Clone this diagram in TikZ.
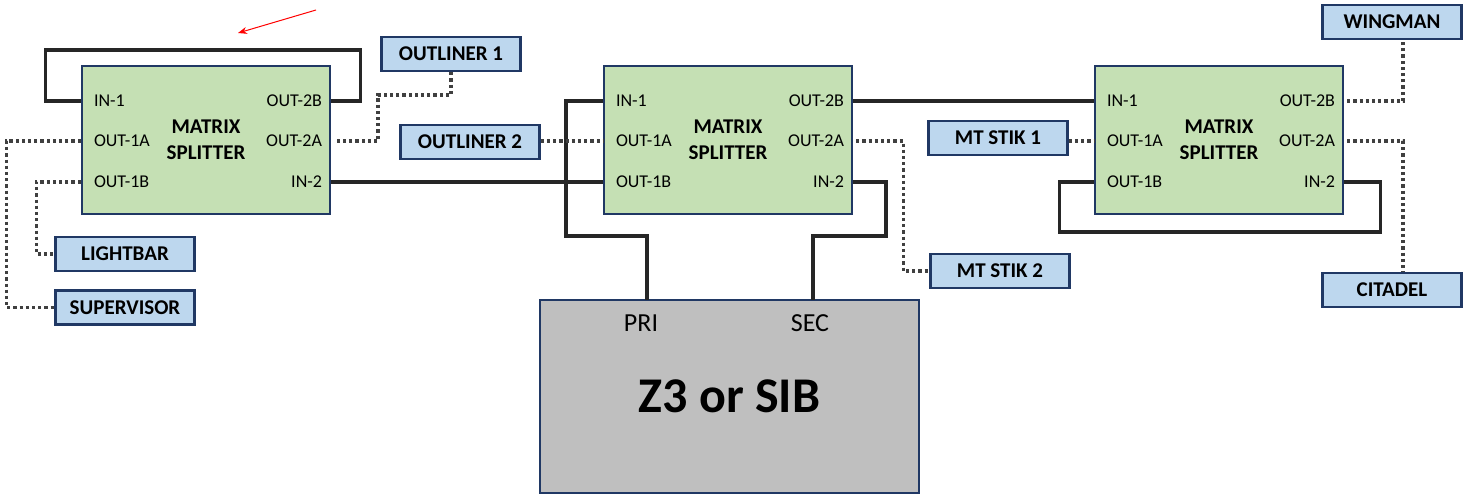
\documentclass[tikz,border=0pt]{standalone}
\usepackage{fontspec}
\setmainfont{Carlito}
\usetikzlibrary{arrows.meta, positioning, calc}

\definecolor{splitgreen}{HTML}{C5E0B4}
\definecolor{devblue}{HTML}{BDD7EE}
\definecolor{hostgrey}{HTML}{BFBFBF}
\definecolor{edgenavy}{HTML}{203864}

\begin{document}
\begin{tikzpicture}[
    x=1pt, y=-1pt,
    splitter/.style={
        rectangle,
        minimum width=248pt,
        minimum height=148pt,
        draw=edgenavy,
        line width=2.4pt,
        fill=splitgreen,
        align=center,
        font=\fontsize{21}{26}\selectfont\bfseries
    },
    device/.style={
        rectangle,
        minimum width=139pt,
        minimum height=34pt,
        inner sep=0pt,
        draw=edgenavy,
        line width=2.4pt,
        fill=devblue,
        font=\fontsize{21}{24}\selectfont\bfseries
    },
    host/.style={
        rectangle,
        minimum width=379pt,
        minimum height=193pt,
        draw=edgenavy,
        line width=2.4pt,
        fill=hostgrey,
        font=\fontsize{50}{54}\selectfont\bfseries
    },
    port/.style={
        inner sep=0pt,
        font=\fontsize{18}{20}\selectfont
    },
    wire/.style={
        line width=3.3pt,
        draw=black!85
    },
    signal/.style={
        line width=3.2pt,
        draw=black!75,
        dash pattern=on 3.2pt off 3pt
    }
]
\useasboundingbox (0,0) rectangle (1463,496);

\node (sp1) [splitter] at (206,140) {MATRIX\\SPLITTER};
\node (sp2) [splitter] at (728,140) {MATRIX\\SPLITTER};
\node (sp3) [splitter] at (1219,140) {MATRIX\\SPLITTER};

\foreach \s in {sp1,sp2,sp3} {
    \node (\s-in1)   [port, anchor=west] at ([xshift=13pt, yshift=39pt]\s.west) {IN-1};
    \node (\s-out1a) [port, anchor=west] at ([xshift=13pt, yshift=-1pt]\s.west) {OUT-1A};
    \node (\s-out1b) [port, anchor=west] at ([xshift=13pt, yshift=-42pt]\s.west) {OUT-1B};
    \node (\s-out2b) [port, anchor=east] at ([xshift=-9pt, yshift=39pt]\s.east) {OUT-2B};
    \node (\s-out2a) [port, anchor=east] at ([xshift=-9pt, yshift=-1pt]\s.east) {OUT-2A};
    \node (\s-in2)   [port, anchor=east] at ([xshift=-9pt, yshift=-42pt]\s.east) {IN-2};
}

\node (outl1) [device] at (451,54) {OUTLINER 1};
\node (outl2) [device] at (470,142) {OUTLINER 2};
\node (light) [device] at (125,254) {LIGHTBAR};
\node (super) [device, below=17pt of light] {SUPERVISOR};
\node (stik1) [device] at (998,138) {MT STIK 1};
\node (stik2) [device] at (1000,271) {MT STIK 2};
\node (wing) [device] at (1392,22) {WINGMAN};
\node (citadel) [device] at (1392,290) {CITADEL};

\node (host) [host] at (729.5,396.5) {Z3 or SIB};
\node (pri) [font=\fontsize{26}{28}\selectfont] at (641,323) {PRI};
\node (sec) [font=\fontsize{26}{28}\selectfont] at (810,323) {SEC};
\coordinate (pri-port) at (647,300);
\coordinate (sec-port) at (813,300);

\draw [wire] (sp1.west |- sp1-in1) -- ++(-35,0) |- ++(315,-51) |- (sp1.east |- sp1-out2b);
\draw [wire] (sp1.east |- sp1-in2) -- (sp2.west |- sp1-in2);
\draw [wire] (sp2.east |- sp2-out2b) -- (sp3.west |- sp2-out2b);
\draw [wire] (sp2.west |- sp2-in1) -| (566,236) -| (pri-port);
\draw [wire] (sp2.east |- sp2-in2) -| (886,236) -| (sec-port);
\draw [wire] (sp3.west |- sp3-out1b) -- ++(-34,0) |- ++(321,50) |- (sp3.east |- sp3-in2);

\draw [signal] (outl1.south) |- (378,95) |- ([xshift=3pt]sp1.east |- sp1-out2a);
\draw [signal] (sp1.west |- sp1-out1b) -| ([xshift=-18pt]light.west) -- (light.west);
\draw [signal] (sp1.west |- sp1-out1a) -| ([xshift=-48pt]super.west) -- (super.west);
\draw [signal] (outl2.east |- sp2-out1a) -- (sp2.west |- sp2-out1a);
\draw [signal] ([xshift=3pt]sp2.east |- sp2-out2a) -| ([xshift=-26pt]stik2.west) -- (stik2.west);
\draw [signal] (stik1.east |- sp3-out1a) -- (sp3.west |- sp3-out1a);
\draw [signal] ([xshift=3pt]sp3.east |- sp3-out2b) -| ([xshift=11pt]wing.south);
\draw [signal] ([xshift=3pt]sp3.east |- sp3-out2a) -| ([xshift=11pt]citadel.north);

\coordinate (hint-tail) at (316,10);
\coordinate (hint-tip) at (238,33);
\draw [red, line width=1pt, -{Stealth[length=9pt, width=7pt]}] (hint-tail) -- (hint-tip);
\end{tikzpicture}
\end{document}
